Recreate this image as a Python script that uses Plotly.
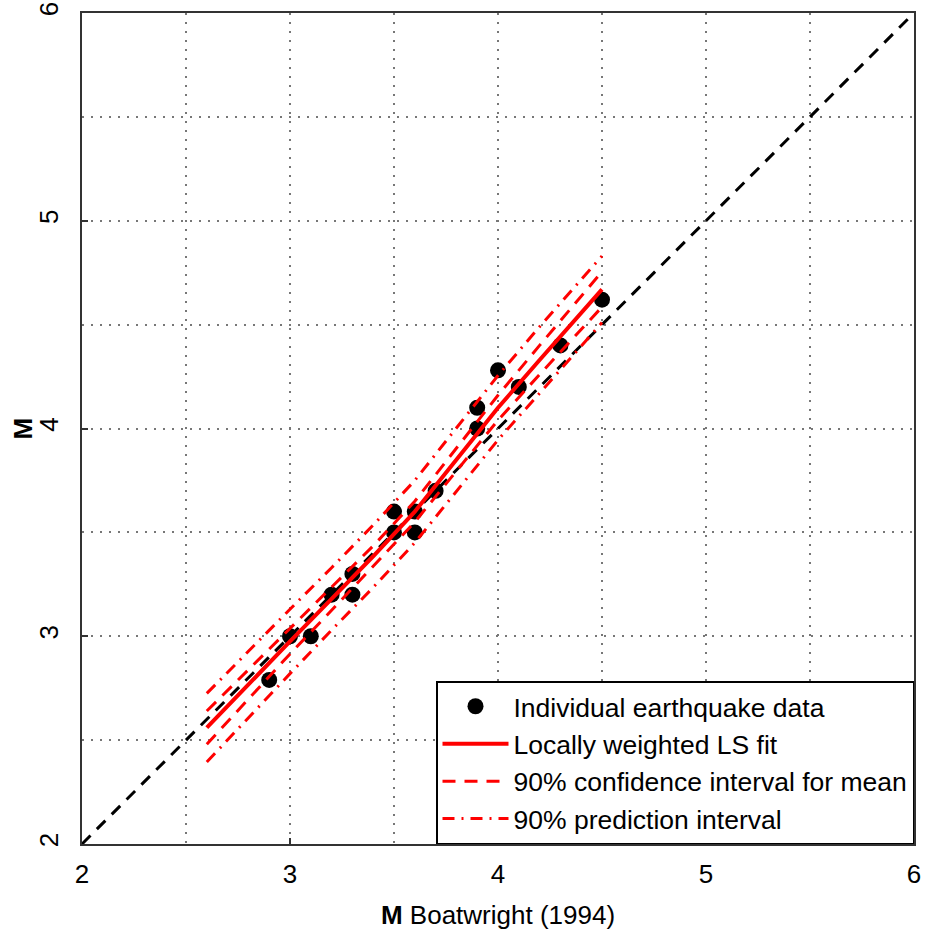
import plotly.graph_objects as go

# Individual earthquake magnitudes: Boatwright (1994) vs. this study
mag_boatwright = [2.9, 3.0, 3.1, 3.2, 3.3, 3.3, 3.5, 3.5, 3.6, 3.6, 3.7, 3.9, 3.9, 4.0, 4.1, 4.3, 4.5]
mag_m = [2.79, 3.0, 3.0, 3.2, 3.3, 3.2, 3.6, 3.5, 3.6, 3.5, 3.7, 4.1, 4.0, 4.28, 4.2, 4.4, 4.62]

# Locally weighted least-squares fit with its bands
fit_x = [2.6, 2.8, 3.0, 3.2, 3.4, 3.6, 3.8, 4.0, 4.2, 4.4, 4.5]
fit_y = [2.56, 2.77, 2.975, 3.18, 3.385, 3.60, 3.85, 4.10, 4.33, 4.555, 4.67]
ci_lower = [2.48, 2.70, 2.915, 3.125, 3.335, 3.55, 3.795, 4.04, 4.26, 4.475, 4.585]
ci_upper = [2.64, 2.84, 3.035, 3.235, 3.435, 3.65, 3.905, 4.16, 4.40, 4.635, 4.755]
pi_lower = [2.395, 2.61, 2.82, 3.03, 3.235, 3.45, 3.70, 3.945, 4.17, 4.395, 4.51]
pi_upper = [2.725, 2.93, 3.13, 3.33, 3.535, 3.75, 4.00, 4.255, 4.49, 4.715, 4.83]

# 1:1 reference line
one_to_one = [2, 6]

FONT = "Liberation Sans, Arial, sans-serif"
RED = "#ff0000"

fig = go.Figure()

fig.add_trace(go.Scatter(
    x=one_to_one, y=one_to_one, mode="lines", showlegend=False,
    line=dict(color="black", width=3, dash="12px,9px"), hoverinfo="skip"))

fig.add_trace(go.Scatter(
    x=mag_boatwright, y=mag_m, mode="markers", name="Individual earthquake data",
    marker=dict(color="black", size=16, line=dict(width=0)), legendrank=1))

fig.add_trace(go.Scatter(
    x=fit_x, y=fit_y, mode="lines", name="Locally weighted LS fit",
    line=dict(color=RED, width=4), legendrank=2))

for i, (band, nm, dash) in enumerate([
        ((ci_lower, ci_upper), "90% confidence interval for mean", "13px,9px"),
        ((pi_lower, pi_upper), "90% prediction interval", "12px,7px,2px,7px")]):
    for j, yy in enumerate(band):
        fig.add_trace(go.Scatter(
            x=fit_x, y=yy, mode="lines", name=nm, legendgroup=nm,
            showlegend=(j == 0), legendrank=3 + i,
            line=dict(color=RED, width=3, dash=dash)))

axis_common = dict(
    range=[2, 6], dtick=1, tick0=2, automargin=False,
    showline=True, mirror=True, linecolor="#333333", linewidth=1.5,
    ticks="inside", ticklen=6, tickwidth=1.5, tickcolor="#333333",
    showgrid=True, gridcolor="#777777", gridwidth=1.5, griddash="2px,7px",
    minor=dict(dtick=0.5, showgrid=True, gridcolor="#777777", gridwidth=1.5,
               griddash="2px,7px", ticks=""),
    zeroline=False,
    tickfont=dict(family=FONT, size=26, color="black"),
)

fig.update_xaxes(**axis_common, ticklabelstandoff=6,
                 title=dict(text="<b>M</b> Boatwright (1994)",
                            font=dict(family=FONT, size=26, color="black"),
                            standoff=18))
fig.update_yaxes(**axis_common, tickangle=-90, ticklabelstandoff=12)

# y-axis title placed beside the rotated tick labels
fig.add_annotation(text="<b>M</b>", xref="paper", yref="paper",
                   x=-60 / 832, y=0.5, xanchor="center", yanchor="middle",
                   textangle=-90, showarrow=False,
                   font=dict(family=FONT, size=26, color="black"))

fig.update_layout(
    width=925, height=934,
    margin=dict(l=82, r=11, t=13, b=90),
    paper_bgcolor="white", plot_bgcolor="white",
    font=dict(family=FONT, size=26, color="black"),
    legend=dict(
        x=1, y=0, xanchor="right", yanchor="bottom",
        bgcolor="white", bordercolor="black", borderwidth=1.5,
        font=dict(family=FONT, size=26.5, color="black"),
        itemwidth=66, traceorder="normal",
    ),
)

fig.write_html("out.html")
